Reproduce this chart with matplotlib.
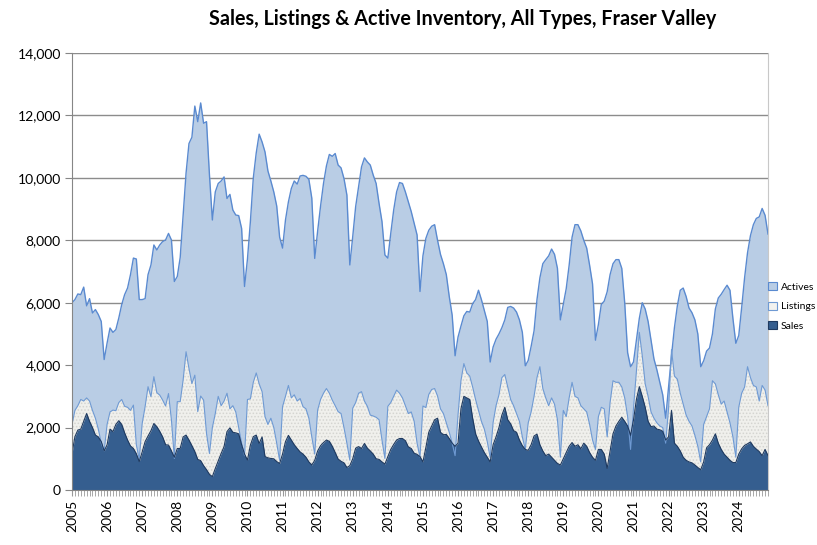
import numpy as np
import matplotlib.pyplot as plt
from matplotlib.patches import Patch
from matplotlib.ticker import FuncFormatter, MultipleLocator

plt.rcParams['font.family'] = ['Lato', 'DejaVu Sans']

# monthly values, Jan 2005 - Nov 2024 (one row per year)
actives = [
    6000, 6100, 6280, 6260, 6500, 5900, 6130, 5670, 5780, 5620, 5400, 4180,
    4710, 5190, 5050, 5140, 5510, 5940, 6260, 6470, 6900, 7430, 7400, 6100,
    6100, 6130, 6900, 7210, 7850, 7690, 7850, 7960, 8010, 8220, 8010, 6680,
    6840, 7450, 8800, 10150, 11100, 11300, 12300, 11800, 12400, 11750, 11800, 10100,
    8650, 9550, 9820, 9900, 10030, 9340, 9470, 8970, 8810, 8790, 8380, 6520,
    7400, 8600, 10000, 10800, 11400, 11150, 10830, 10220, 9900, 9550, 9100, 8100,
    7750, 8650, 9230, 9660, 9900, 9800, 10060, 10080, 10050, 9950, 9350, 7420,
    8300, 9100, 9820, 10380, 10750, 10690, 10780, 10410, 10320, 9980, 9450, 7210,
    8120, 9080, 9710, 10350, 10640, 10510, 10410, 10090, 9820, 9180, 8600, 7530,
    7430, 8220, 8970, 9550, 9850, 9820, 9550, 9240, 8920, 8540, 8170, 6360,
    7500, 8060, 8320, 8450, 8500, 8000, 7550, 7250, 6900, 6200, 5600, 4300,
    4900, 5250, 5580, 5720, 5700, 5970, 6100, 6400, 6100, 5750, 5400, 4100,
    4580, 4830, 5000, 5200, 5450, 5850, 5880, 5830, 5700, 5450, 5050, 3980,
    4150, 4600, 5100, 6100, 6800, 7250, 7380, 7500, 7720, 7550, 7100, 5450,
    5950, 6450, 7200, 8100, 8500, 8500, 8300, 8000, 7750, 7200, 6600, 4800,
    5300, 5950, 6050, 6350, 6900, 7250, 7380, 7380, 7100, 6000, 4400, 3950,
    4100, 4800, 5500, 6000, 5800, 5400, 4800, 4200, 3850, 3450, 3050, 2300,
    3300, 4300, 5200, 5900, 6400, 6470, 6200, 5830, 5680, 5450, 5000, 3950,
    4140, 4450, 4550, 5000, 5800, 6150, 6270, 6420, 6560, 6400, 5500, 4700,
    4950, 5850, 6800, 7600, 8150, 8500, 8700, 8750, 9020, 8800, 8200,
]

listings = [
    2100, 2550, 2700, 2900, 2850, 2950, 2850, 2550, 2300, 1950, 1500, 1250,
    2100, 2500, 2560, 2540, 2800, 2900, 2680, 2650, 2550, 2720, 1450, 980,
    2130, 2670, 3310, 2990, 3630, 3120, 3040, 2880, 2690, 3090, 2240, 1010,
    2830, 2830, 3520, 4430, 3890, 3410, 3680, 2510, 3010, 2880, 1810, 1170,
    2000, 2450, 3000, 2700, 2850, 3100, 2600, 2700, 2500, 2000, 1500, 1100,
    2900, 2920, 3450, 3750, 3400, 3150, 2350, 2100, 2300, 2000, 1500, 950,
    2670, 3000, 3350, 2950, 3050, 2850, 2930, 2670, 2600, 2300, 1700, 1150,
    2560, 2900, 3100, 3250, 3100, 2880, 2700, 2510, 2450, 2000, 1500, 960,
    2620, 2800, 3100, 3150, 2850, 2680, 2400, 2370, 2330, 2250, 1600, 1010,
    2680, 2800, 3000, 3200, 3100, 2950, 2700, 2450, 2500, 2200, 1500, 1050,
    2690, 2640, 3060, 3220, 3250, 3010, 2600, 2450, 2150, 1850, 1500, 1100,
    2400, 3500, 4050, 3750, 3650, 3300, 2900, 2550, 2200, 1950, 1550, 1040,
    2160, 2700, 3050, 3600, 3700, 3300, 2900, 2700, 2450, 2200, 1700, 1300,
    2150, 2500, 3000, 3600, 3950, 3250, 2950, 2700, 2950, 2750, 2250, 1050,
    2550, 2350, 2950, 3450, 3000, 2950, 2700, 2600, 2500, 2100, 1600, 1300,
    2350, 2650, 2600, 1700, 2800, 3500, 3450, 3450, 3300, 2950, 2350, 1300,
    2600, 3800, 5050, 4300, 3400, 3000, 2500, 2300, 2150, 2050, 2000, 1500,
    2600, 4500, 3650, 3550, 3100, 2750, 2400, 2200, 2050, 1750, 1400, 900,
    2100, 2350, 2600, 3500, 3400, 3050, 2750, 2850, 2500, 2150, 1700, 1050,
    2650, 3100, 3300, 3950, 3600, 3350, 3300, 2850, 3350, 3200, 2700,
]

sales = [
    1170, 1710, 1920, 1950, 2200, 2450, 2200, 2000, 1760, 1700, 1550, 1250,
    1450, 1950, 1870, 2100, 2220, 2100, 1830, 1600, 1410, 1330, 1160, 910,
    1220, 1550, 1730, 1900, 2130, 2030, 1880, 1700, 1450, 1440, 1250, 1050,
    1330, 1330, 1700, 1760, 1600, 1420, 1230, 980, 940, 780, 650, 500,
    430, 690, 930, 1170, 1390, 1870, 1990, 1850, 1830, 1800, 1450, 1150,
    960, 1440, 1710, 1760, 1490, 1700, 1070, 1030, 1010, 1000, 910, 850,
    1150, 1550, 1750, 1600, 1450, 1330, 1220, 1150, 1050, 900, 800, 950,
    1250, 1420, 1520, 1600, 1560, 1400, 1200, 990, 920, 870, 720, 780,
    1000, 1340, 1390, 1330, 1490, 1340, 1250, 1150, 1000, 980, 900, 830,
    1070, 1300, 1460, 1600, 1650, 1650, 1580, 1380, 1330, 1180, 1140, 1070,
    900, 1360, 1850, 2050, 2250, 2300, 1850, 1770, 1780, 1650, 1500, 1400,
    1500, 2600, 3000, 2950, 2900, 2300, 1800, 1570, 1380, 1200, 1050, 900,
    1450, 1700, 2000, 2400, 2650, 2250, 2120, 1900, 1850, 1600, 1420, 1300,
    1270, 1450, 1730, 1790, 1450, 1250, 1100, 1150, 1050, 950, 850, 800,
    1000, 1200, 1400, 1520, 1400, 1450, 1320, 1500, 1400, 1200, 1050, 950,
    1300, 1300, 1150, 690, 1250, 1800, 2050, 2200, 2330, 2200, 2050, 1750,
    2240, 2900, 3310, 3000, 2650, 2200, 2030, 2050, 1950, 1930, 1880, 1600,
    1700, 2550, 1500, 1400, 1250, 1050, 950, 900, 870, 800, 720, 650,
    900, 1350, 1450, 1600, 1800, 1500, 1300, 1150, 1050, 950, 880, 880,
    1150, 1320, 1430, 1480, 1540, 1400, 1310, 1230, 1100, 1300, 1100,
]

years = list(range(2005, 2025))

x = np.arange(len(actives))

fig = plt.figure(figsize=(8.17, 5.45), dpi=100)
ax = fig.add_axes([72/817, 55/545, 696/817, 437/545])

# actives (back)
ax.fill_between(x, actives, color='#B9CDE5', lw=0)
ax.plot(x, actives, color='#5A8AD0', lw=1)
# listings (speckled)
plt.rcParams['hatch.color'] = '#D4D4D0'
plt.rcParams['hatch.linewidth'] = 0.7
ax.fill_between(x, listings, facecolor='#F0F0EC', edgecolor='#D4D4D0', hatch='.....', lw=0)
ax.plot(x, listings, color='#6F9AD3', lw=0.8)
# sales (front)
ax.fill_between(x, sales, color='#355E8F', lw=0)
ax.plot(x, sales, color='#1F3A60', lw=0.8)

ax.set_xlim(0, len(actives) - 1)
ax.set_ylim(0, 14000)
ax.yaxis.set_major_locator(MultipleLocator(2000))
ax.yaxis.set_major_formatter(FuncFormatter(lambda v, p: f'{int(v):,}'))
ax.set_xticks([12 * i for i in range(len(years))])
ax.set_xticklabels([str(y) for y in years], rotation=90)
ax.xaxis.set_minor_locator(MultipleLocator(1))

ax.grid(axis='y', color='#8C8C8C', lw=1)
ax.set_axisbelow(True)
for s in ['left', 'bottom']:
    ax.spines[s].set_color('#868686')
ax.spines['top'].set_visible(False)
ax.spines['right'].set_color('#C8C8C8')
ax.tick_params(axis='y', which='major', length=5, color='#868686', labelsize=10, pad=3)
ax.tick_params(axis='x', which='both', length=4, color='#9A9A9A', labelsize=10, pad=3)

fig.text(463/817, 1 - 19/545, 'Sales, Listings & Active Inventory, All Types, Fraser Valley',
         ha='center', va='center', fontsize=14.2, fontweight='bold')

handles = [Patch(facecolor='#B9CDE5', edgecolor='#5A8AD0', lw=0.8),
           Patch(facecolor='#F2F2EF', edgecolor='#6F9AD3', lw=0.8),
           Patch(facecolor='#355E8F', edgecolor='#1F3A60', lw=0.8)]
fig.legend(handles, ['Actives', 'Listings', 'Sales'], loc='upper left',
           bbox_to_anchor=(759/817, 1 - 273/545), frameon=False, fontsize=7.5,
           handlelength=0.8, handleheight=0.8, handletextpad=0.4, labelspacing=0.95)

plt.savefig('out.png', dpi=100)
